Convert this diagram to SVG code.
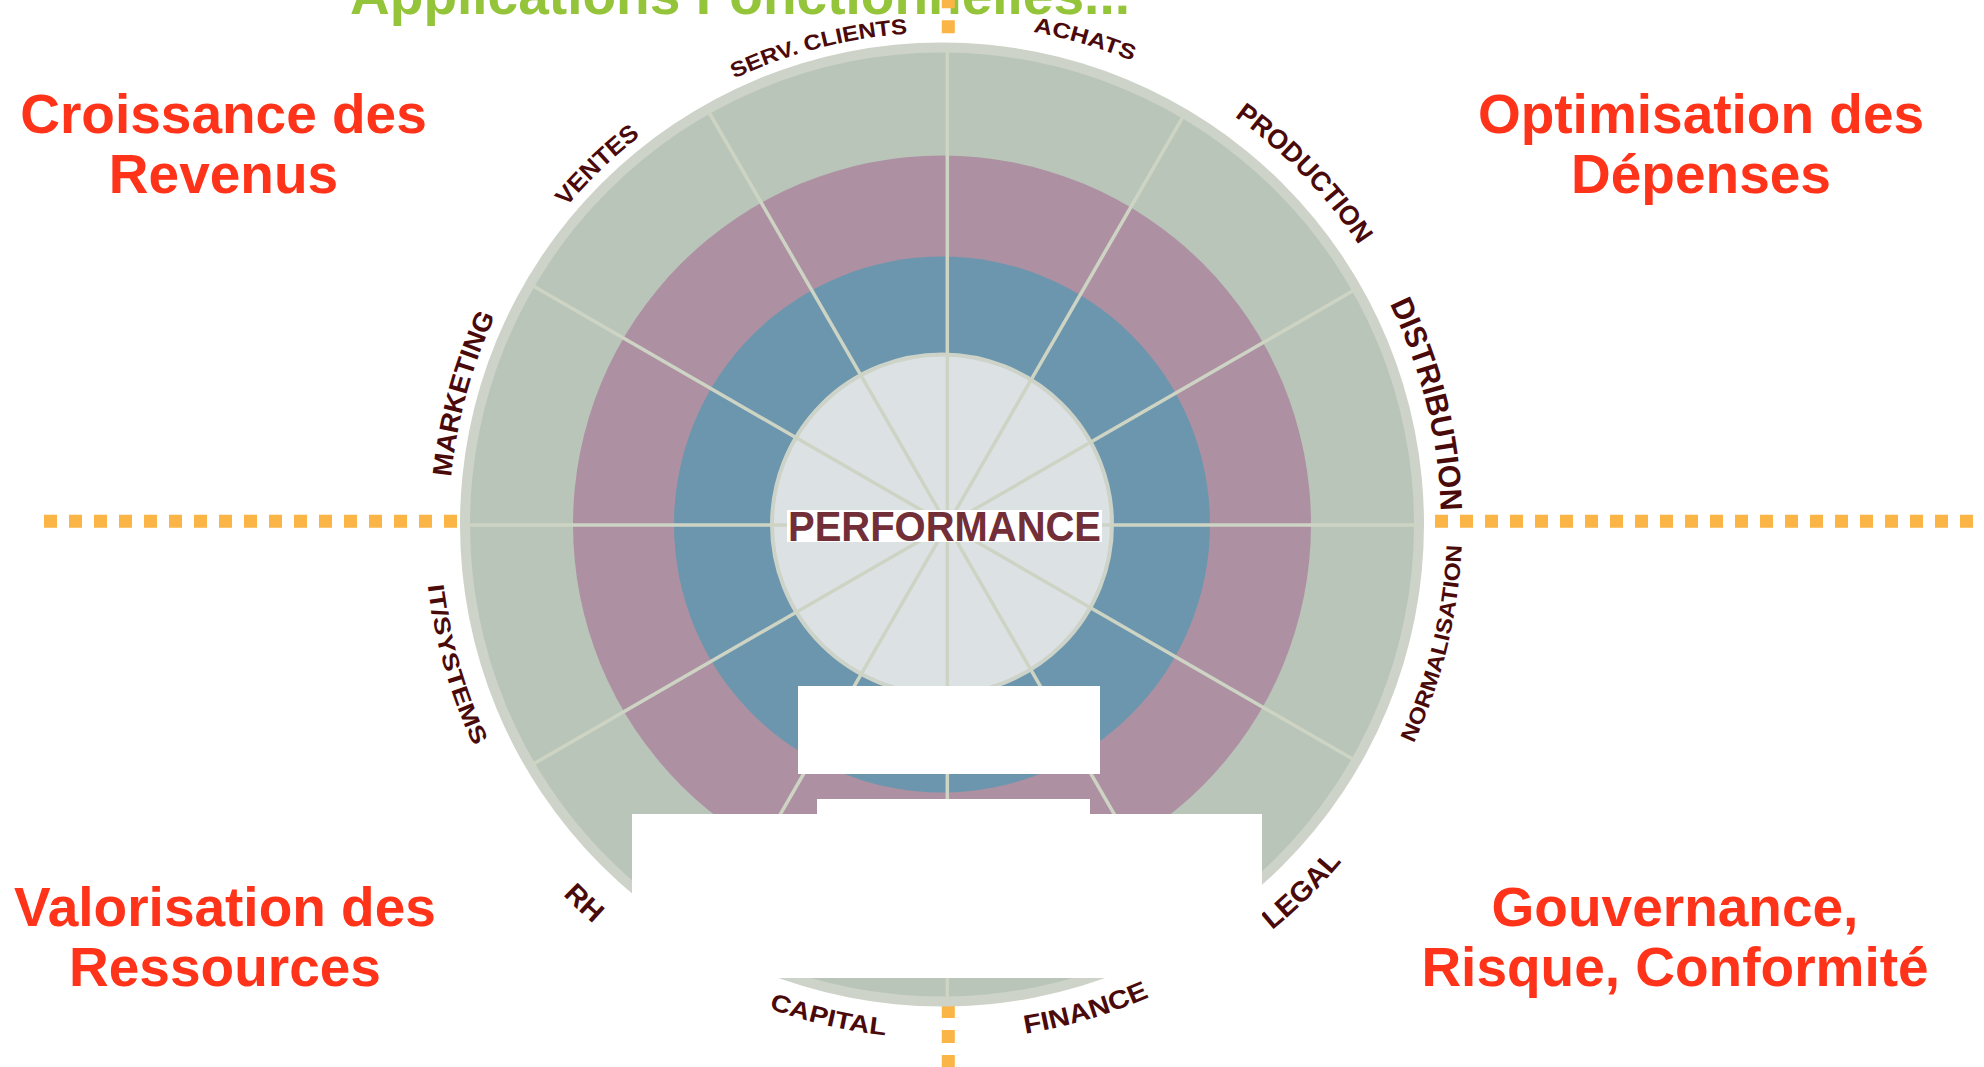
<svg xmlns="http://www.w3.org/2000/svg" width="1984" height="1067" viewBox="0 0 1984 1067">
<style>
  .title { font-family: "Liberation Sans", Arial, sans-serif; font-weight: bold; font-size: 55px; fill: #93c43a; }
  .red { font-family: "Liberation Sans", Arial, sans-serif; font-weight: bold; font-size: 55px; fill: #ff3319; text-anchor: middle; }
  .lbl { font-family: "Liberation Sans", Arial, sans-serif; font-weight: bold; fill: #4b0a0a; text-anchor: middle; }
  .dash { stroke: #fbb446; stroke-width: 13; stroke-dasharray: 13 12; fill: none; }
  .spoke { stroke: #cdd4c4; stroke-width: 3.5; fill: none; }
  .perf { font-family: "Liberation Sans Narrow", "Liberation Sans", Arial, sans-serif; font-weight: bold; font-size: 42.6px; fill: #722f37; }
  .mask { fill: #ffffff; }
</style>
<defs>
  <clipPath id="wheelClip"><circle cx="942" cy="524.5" r="477"/></clipPath>
  <path id="p-serv" d="M541.5,238.8 A492,492 0 0 1 1153.8,80.4"/>
  <path id="p-achats" d="M741.4,65.4 A501,501 0 0 1 1359.3,247.3"/>
  <path id="p-prod" d="M993.6,25.2 A502,502 0 0 1 1442.7,488.6"/>
  <path id="p-dist" d="M1236.0,121.3 A499,499 0 0 1 1390.1,744.0"/>
  <path id="p-norm" d="M1250.6,943.0 A520,520 0 0 0 1407.8,293.3"/>
  <path id="p-legal" d="M983.0,1045.9 A523,523 0 0 0 1462.6,574.6"/>
  <path id="p-fin" d="M736.3,997.7 A516,516 0 0 0 1372.3,809.3"/>
  <path id="p-cap" d="M531.5,833.8 A514,514 0 0 0 1175.4,982.5"/>
  <path id="p-rh" d="M415.5,585.4 A530,530 0 0 0 910.6,1053.5"/>
  <path id="p-it" d="M468.8,314.6 A518,518 0 0 0 652.3,954.0"/>
  <path id="p-mkt" d="M494.1,730.6 A493,493 0 0 1 661.3,119.2"/>
  <path id="p-ventes" d="M452.9,471.4 A492,492 0 0 1 909.4,33.6"/>
</defs>

<g id="title">
  <text class="title" x="350" y="14" textLength="780" lengthAdjust="spacingAndGlyphs">Applications Fonctionnelles...</text>
</g>

<g id="quadrant-revenus">
  <text class="red" x="223.5" y="132.7">Croissance des</text>
  <text class="red" x="223.5" y="192.7">Revenus</text>
</g>
<g id="quadrant-depenses">
  <text class="red" x="1701" y="133">Optimisation des</text>
  <text class="red" x="1701" y="193">Dépenses</text>
</g>
<g id="quadrant-ressources">
  <text class="red" x="225" y="925.5">Valorisation des</text>
  <text class="red" x="225" y="986">Ressources</text>
</g>
<g id="quadrant-gouvernance">
  <text class="red" x="1675" y="925.5">Gouvernance,</text>
  <text class="red" x="1675" y="986">Risque, Conformité</text>
</g>

<g id="connectors">
  <line class="dash" x1="44" y1="521.3" x2="950" y2="521.3"/>
  <line class="dash" x1="1435" y1="521.3" x2="1990" y2="521.3"/>
  <line class="dash" x1="948.3" y1="-4.7" x2="948.3" y2="45"/>
  <line class="dash" x1="948.3" y1="1005" x2="948.3" y2="1075"/>
</g>

<g id="wheel">
  <circle cx="942" cy="524.5" r="482" fill="#cdd3c8"/>
  <circle cx="942" cy="524.5" r="472" fill="#bac5b9"/>
  <circle cx="942" cy="524.5" r="369" fill="#ad91a3"/>
  <circle cx="942" cy="524.5" r="268" fill="#6c96ad"/>
  <circle cx="942" cy="524.5" r="170" fill="#dce2e4" stroke="#cdd3c8" stroke-width="4"/>
  <g id="spokes" clip-path="url(#wheelClip)">
    <path class="spoke" d="M947.3,25 L947.3,1025 M1197.3,92 L697.3,958 M1380.3,275 L514.3,775 M1447.3,525 L447.3,525 M1380.3,775 L514.3,275 M1197.3,958 L697.3,92"/>
  </g>
</g>

<g id="center-performance">
  <rect x="787" y="510" width="315" height="32" fill="#ffffff"/>
  <text class="perf" x="788" y="541.3" textLength="313" lengthAdjust="spacingAndGlyphs">PERFORMANCE</text>
</g>

<g id="label-serv"><text class="lbl" font-size="21.5"><textPath href="#p-serv" startOffset="50%" textLength="180" lengthAdjust="spacingAndGlyphs">SERV. CLIENTS</textPath></text></g>
<g id="label-achats"><text class="lbl" font-size="21.5"><textPath href="#p-achats" startOffset="50%" textLength="104" lengthAdjust="spacingAndGlyphs">ACHATS</textPath></text></g>
<g id="label-production"><text class="lbl" font-size="27"><textPath href="#p-prod" startOffset="50%" textLength="180" lengthAdjust="spacingAndGlyphs">PRODUCTION</textPath></text></g>
<g id="label-distribution"><text class="lbl" font-size="31"><textPath href="#p-dist" startOffset="50%" textLength="215" lengthAdjust="spacingAndGlyphs">DISTRIBUTION</textPath></text></g>
<g id="label-normalisation"><text class="lbl" font-size="22"><textPath href="#p-norm" startOffset="50%" textLength="205" lengthAdjust="spacingAndGlyphs">NORMALISATION</textPath></text></g>
<g id="label-legal"><text class="lbl" font-size="28"><textPath href="#p-legal" startOffset="50%" textLength="98" lengthAdjust="spacingAndGlyphs">LEGAL</textPath></text></g>
<g id="label-finance"><text class="lbl" font-size="26"><textPath href="#p-fin" startOffset="50%" textLength="130" lengthAdjust="spacingAndGlyphs">FINANCE</textPath></text></g>
<g id="label-capital"><text class="lbl" font-size="24"><textPath href="#p-cap" startOffset="50%" textLength="120" lengthAdjust="spacingAndGlyphs">CAPITAL</textPath></text></g>
<g id="label-rh"><text class="lbl" font-size="28"><textPath href="#p-rh" startOffset="50%" textLength="42" lengthAdjust="spacingAndGlyphs">RH</textPath></text></g>
<g id="label-it"><text class="lbl" font-size="23"><textPath href="#p-it" startOffset="50%" textLength="168" lengthAdjust="spacingAndGlyphs">IT/SYSTEMS</textPath></text></g>
<g id="label-marketing"><text class="lbl" font-size="27"><textPath href="#p-mkt" startOffset="50%" textLength="168" lengthAdjust="spacingAndGlyphs">MARKETING</textPath></text></g>
<g id="label-ventes"><text class="lbl" font-size="24.5"><textPath href="#p-ventes" startOffset="50%" textLength="103" lengthAdjust="spacingAndGlyphs">VENTES</textPath></text></g>

<g id="masks">
  <rect class="mask" x="798" y="686" width="302" height="88"/>
  <rect class="mask" x="817" y="799" width="273" height="20"/>
  <rect class="mask" x="632" y="814" width="630" height="164"/>
</g>
</svg>
